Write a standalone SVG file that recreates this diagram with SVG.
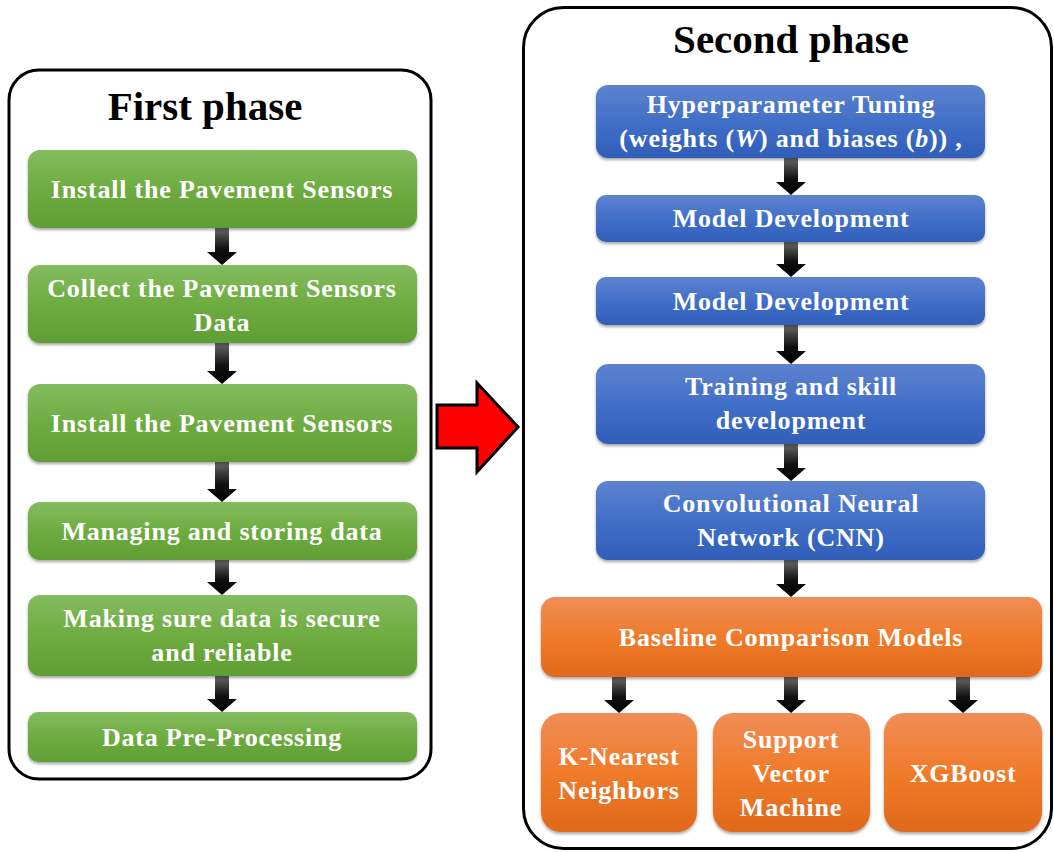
<svg xmlns="http://www.w3.org/2000/svg" width="1054" height="852" viewBox="0 0 1054 852">
<defs>
<linearGradient id="gGreen" x1="0" y1="0" x2="0" y2="1"><stop offset="0" stop-color="#84bc60"/><stop offset="0.5" stop-color="#6eac40"/><stop offset="1" stop-color="#5f9e33"/></linearGradient>
<linearGradient id="gBlue" x1="0" y1="0" x2="0" y2="1"><stop offset="0" stop-color="#5d83cf"/><stop offset="0.5" stop-color="#416fc8"/><stop offset="1" stop-color="#2f5eb8"/></linearGradient>
<linearGradient id="gOrange" x1="0" y1="0" x2="0" y2="1"><stop offset="0" stop-color="#f08d57"/><stop offset="0.5" stop-color="#f07b2a"/><stop offset="1" stop-color="#e0691b"/></linearGradient>
<linearGradient id="gArrow" x1="0" y1="0" x2="0" y2="1"><stop offset="0" stop-color="#6a6a6a"/><stop offset="0.55" stop-color="#111"/><stop offset="1" stop-color="#000"/></linearGradient>
<filter id="sh" x="-5%" y="-10%" width="110%" height="130%"><feDropShadow dx="0" dy="2" stdDeviation="1.5" flood-color="#000" flood-opacity="0.35"/></filter>
</defs>
<style>
.panel{fill:#fff;stroke:#000;stroke-width:3}
.g{fill:url(#gGreen);filter:url(#sh)}
.b{fill:url(#gBlue);filter:url(#sh)}
.o{fill:url(#gOrange);filter:url(#sh)}
.t{font-family:"Liberation Serif","Times New Roman",serif;font-weight:bold;font-size:26px;fill:#fff;text-anchor:middle;letter-spacing:0.8px}
.title{font-family:"Liberation Serif","Times New Roman",serif;font-weight:bold;font-size:41px;fill:#000;text-anchor:middle}
.arr{fill:url(#gArrow)}
</style>

<g id="panel-first">
<rect class="panel" x="9" y="70" width="422" height="709" rx="30"/>
<text class="title" x="205" y="120">First phase</text>
</g>
<g id="panel-second">
<rect class="panel" x="523.5" y="7.5" width="528" height="841" rx="40"/>
<text class="title" x="791" y="53">Second phase</text>
</g>

<g id="connectors">
<path class="arr" d="M215 228H229V252H237L222 265L207 252H215Z"/>
<path class="arr" d="M215 343H229V371H237L222 384L207 371H215Z"/>
<path class="arr" d="M215 462H229V489H237L222 502L207 489H215Z"/>
<path class="arr" d="M215 560H229V582H237L222 595L207 582H215Z"/>
<path class="arr" d="M215 676H229V699H237L222 712L207 699H215Z"/>
<path class="arr" d="M784 158H798V182H806L791 195L776 182H784Z"/>
<path class="arr" d="M784 242H798V264H806L791 277L776 264H784Z"/>
<path class="arr" d="M784 325H798V351H806L791 364L776 351H784Z"/>
<path class="arr" d="M784 444H798V468H806L791 481L776 468H784Z"/>
<path class="arr" d="M784 560H798V584H806L791 597L776 584H784Z"/>
<path class="arr" d="M612 677H626V700H634L619 713L604 700H612Z"/>
<path class="arr" d="M784 677H798V700H806L791 713L776 700H784Z"/>
<path class="arr" d="M956 677H970V700H978L963 713L948 700H956Z"/>
<polygon id="phase-arrow" points="437,405 477,405 477,383 518,427 477,472 477,448 437,448" fill="#ff0000" stroke="#000" stroke-width="3" stroke-linejoin="miter"/>
</g>

<g id="n-install1"><rect class="g" x="28" y="150" width="389" height="78" rx="12"/><text class="t" x="222" y="198">Install the Pavement Sensors</text></g>
<g id="n-collect"><rect class="g" x="28" y="265" width="389" height="78" rx="12"/><text class="t" x="222" y="297">Collect the Pavement Sensors</text><text class="t" x="222" y="331">Data</text></g>
<g id="n-install2"><rect class="g" x="28" y="384" width="389" height="78" rx="12"/><text class="t" x="222" y="432">Install the Pavement Sensors</text></g>
<g id="n-manage"><rect class="g" x="28" y="502" width="389" height="58" rx="12"/><text class="t" x="222" y="540">Managing and storing data</text></g>
<g id="n-secure"><rect class="g" x="28" y="595" width="389" height="81" rx="12"/><text class="t" x="222" y="627">Making sure data is secure</text><text class="t" x="222" y="661">and reliable</text></g>
<g id="n-preproc"><rect class="g" x="28" y="712" width="389" height="50" rx="10"/><text class="t" x="222" y="746">Data Pre-Processing</text></g>

<g id="n-hyper"><rect class="b" x="596" y="85" width="389" height="73" rx="12"/><text class="t" x="791" y="113">Hyperparameter Tuning</text><text class="t" x="791" y="147">(weights (<tspan font-style="italic">W</tspan>) and biases (<tspan font-style="italic">b</tspan>)) ,</text></g>
<g id="n-model1"><rect class="b" x="596" y="195" width="389" height="47" rx="10"/><text class="t" x="791" y="227">Model Development</text></g>
<g id="n-model2"><rect class="b" x="596" y="277" width="389" height="48" rx="10"/><text class="t" x="791" y="310">Model Development</text></g>
<g id="n-training"><rect class="b" x="596" y="364" width="389" height="80" rx="12"/><text class="t" x="791" y="395">Training and skill</text><text class="t" x="791" y="429">development</text></g>
<g id="n-cnn"><rect class="b" x="596" y="481" width="389" height="79" rx="12"/><text class="t" x="791" y="512">Convolutional Neural</text><text class="t" x="791" y="546">Network (CNN)</text></g>

<g id="n-baseline"><rect class="o" x="541" y="597" width="501" height="80" rx="14"/><text class="t" x="791" y="646">Baseline Comparison Models</text></g>
<g id="n-knn"><rect class="o" x="541" y="713" width="156" height="119" rx="20"/><text class="t" x="619" y="765">K-Nearest</text><text class="t" x="619" y="799">Neighbors</text></g>
<g id="n-svm"><rect class="o" x="713" y="713" width="157" height="119" rx="20"/><text class="t" x="791" y="748">Support</text><text class="t" x="791" y="782">Vector</text><text class="t" x="791" y="816">Machine</text></g>
<g id="n-xgb"><rect class="o" x="884" y="713" width="158" height="119" rx="20"/><text class="t" x="963" y="782">XGBoost</text></g>
</svg>
